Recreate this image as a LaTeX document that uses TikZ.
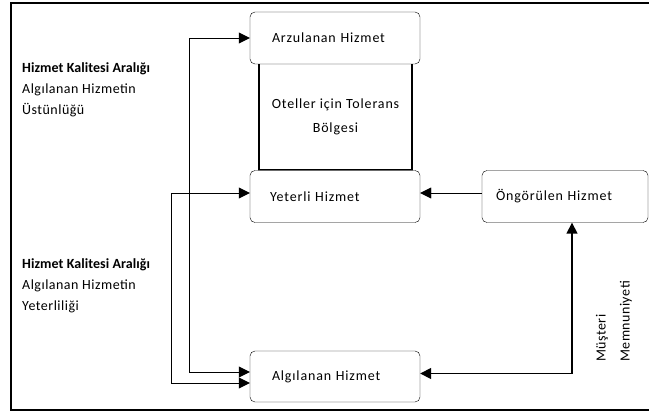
\documentclass[tikz,border=0pt]{standalone}
\usepackage{fontspec}
\setmainfont{Carlito}
\newfontfamily\boxfont[LetterSpace=6]{Carlito}
\newfontfamily\yanfont[LetterSpace=3.5,BoldFeatures={LetterSpace=0.5}]{Carlito}
\usetikzlibrary{arrows.meta}

\tikzset{
  hizmet/.style={draw, rounded corners=5pt, fill=white, text width=126pt,
    inner xsep=22pt, inner ysep=0pt, minimum height=52pt, align=left,
    font=\boxfont\fontsize{14}{16}\selectfont},
  okucu/.style={-{Triangle[length=11pt,width=11pt]}},
  ciftok/.style={{Triangle[length=11pt,width=11pt]}-{Triangle[length=11pt,width=11pt]}},
  yan/.style={align=left, inner sep=0pt, anchor=north west,
    font=\yanfont\fontsize{14}{21}\selectfont}
}

\begin{document}
\begin{tikzpicture}[x=1pt,y=-1pt]
\useasboundingbox (0,0) rectangle (649,412);
% cerceve
\draw[line width=1.5pt] (651,3) -- (11,3) -- (11,410) -- (651,410);

% tolerans bolgesi
\node[draw, line width=1.6pt, minimum width=153pt, minimum height=107pt,
  align=center, font=\boxfont\fontsize{14}{24}\selectfont] (tol) at (335.5,116.5)
  {Oteller için Tolerans\\Bölgesi};

% kutular
\node[hizmet] (arz) at (335,38) {Arzulanan Hizmet};
\node[hizmet, inner xsep=20pt, text width=130pt] (yet) at (335,196.5) {Yeterli Hizmet};
\node[hizmet, inner xsep=14pt, text width=138pt] (ong) at (565,196.5) {Öngörülen Hizmet};
\node[hizmet, minimum height=51pt] (alg) at (335,376.5) {Algılanan Hizmet};

% sol metinler
\node[yan] (ust) at (22,62) {\textbf{Hizmet Kalitesi Aralığı}\\Algılanan Hizmetin\\Üstünlüğü};
\node[yan] (yeter) at (22,258) {\textbf{Hizmet Kalitesi Aralığı}\\Algılanan Hizmetin\\Yeterliliği};

% oklar
\coordinate (dis) at (189,0);
\coordinate (ic) at (171,0);
\draw[ciftok] (arz.west) -- (arz.west -| dis) |- ([yshift=4.5pt]alg.west);
\draw[ciftok] ([yshift=3.5pt]yet.west) -- ([yshift=3.5pt]yet.west -| ic) |- ([yshift=-6.5pt]alg.west);
\draw[okucu] ([yshift=3.5pt]ong.west) -- ([yshift=3.5pt]yet.east);
\draw[ciftok, line width=1.6pt] ([yshift=3pt]alg.east) -| ([xshift=7pt]ong.south);

\node[rotate=90, anchor=west, align=left, inner sep=0pt,
  font=\yanfont\fontsize{14}{24}\selectfont] (mem) at (614,362) {Müşteri\\Memnuniyeti};
\end{tikzpicture}
\end{document}
